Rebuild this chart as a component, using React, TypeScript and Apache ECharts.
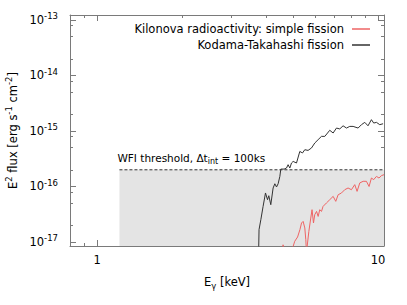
import React, { useEffect, useRef } from "react";
import * as echarts from "echarts";

// ---- data (energy in keV, E^2 flux in erg s^-1 cm^-2) ----
const kodamaEnergy = [
  3.756, 3.769, 3.825, 3.896, 3.974, 4.04, 4.083, 4.15, 4.23, 4.29, 4.35, 4.408,
  4.47, 4.506, 4.63, 4.721, 4.783, 4.851, 4.918, 4.984, 5.124, 5.265, 5.383,
  5.485, 5.634, 5.794, 5.953, 6.117, 6.289, 6.464, 6.73, 6.918, 7.112, 7.306,
  7.507, 7.72, 7.93, 8.15, 8.49, 8.73, 8.97, 9.21, 9.47, 9.65, 9.87, 10.14, 10.42,
];
const kodamaFlux = [
  6.7e-18, 1.67e-17, 2.52e-17, 4.37e-17, 7.64e-17, 5.78e-17, 6.82e-17, 4.7e-17,
  9.4e-17, 1.12e-16, 9.8e-17, 1.12e-16, 1.52e-16, 2.06e-16, 2.06e-16, 2.15e-16,
  2.47e-16, 2.15e-16, 2.65e-16, 2.83e-16, 2.65e-16, 4.28e-16, 4.02e-16, 4.6e-16,
  4.47e-16, 4.94e-16, 6.08e-16, 6.97e-16, 8.0e-16, 8.0e-16, 1.03e-15, 9.2e-16,
  1.13e-15, 1.09e-15, 1.24e-15, 1.13e-15, 1.21e-15, 1.21e-15, 1.13e-15, 1.3e-15,
  1.43e-15, 1.24e-15, 1.6e-15, 1.39e-15, 1.43e-15, 1.3e-15, 1.35e-15,
];
const simpleEnergy = [
  4.58, 4.59, 4.62, 4.98, 5.05, 5.17, 5.27, 5.34, 5.41, 5.485, 5.53, 5.56, 5.67,
  5.76, 5.82, 5.89, 5.95, 6.04, 6.12, 6.2, 6.29, 6.37, 6.55, 6.73, 6.92, 7.07,
  7.21, 7.41, 7.61, 7.82, 8.04, 8.26, 8.42, 8.61, 8.85, 9.09, 9.29, 9.47, 9.65,
  9.87, 10.08, 10.28, 10.5,
];
const simpleFlux = [
  6.7e-18, 8.9e-18, 6.7e-18, 8.2e-18, 1.03e-17, 1.23e-17, 1.67e-17, 2.2e-17,
  2.35e-17, 1.79e-17, 1.1e-17, 6.5e-18, 1.55e-17, 2.7e-17, 3.82e-17, 2.2e-17,
  3.1e-17, 3.56e-17, 2.89e-17, 3.82e-17, 3.56e-17, 4.37e-17, 5.05e-17, 5.78e-17,
  6.64e-17, 5.4e-17, 7.1e-17, 7.64e-17, 8.75e-17, 9.4e-17, 8.75e-17, 1.08e-16,
  8.17e-17, 1.16e-16, 1.24e-16, 1.24e-16, 1.0e-16, 1.42e-16, 1.33e-16, 1.52e-16,
  1.42e-16, 1.57e-16, 1.63e-16,
];
const thresholdEnergy = [1.2, 10.5];
const thresholdFlux = [2e-16, 2e-16];

const xRange = [0.8, 10.5];
const yRange = [8.47e-18, 1.23e-13];
const xMajorTicks = [1, 10];
const xMinorTicks = [0.9, 2, 3, 4, 5, 6, 7, 8, 9];
const yMajorTicks = [1e-17, 1e-16, 1e-15, 1e-14, 1e-13];
const yMinorTicks = [
  2e-17, 5e-17, 8e-17, 2e-16, 5e-16, 8e-16, 2e-15, 5e-15, 8e-15, 2e-14, 5e-14, 8e-14,
];

const SERIES_SIMPLE = "Kilonova radioactivity: simple fission";
const SERIES_KODAMA = "Kodama-Takahashi fission";

const FONT = "DejaVu Sans";
const FRAME = "#7a7a7a";

const pairs = (xs: number[], ys: number[]) => xs.map((x, i) => [x, ys[i]]);

export default function App() {
  const ref = useRef<HTMLDivElement>(null);

  useEffect(() => {
    if (!ref.current) return;
    const chart = echarts.init(ref.current, undefined, { renderer: "svg" });

    const baseX = (extra: any) => ({
      type: "log",
      logBase: 10,
      min: xRange[0],
      max: xRange[1],
      splitLine: { show: false },
      ...extra,
    });
    const baseY = (extra: any) => ({
      type: "log",
      logBase: 10,
      min: yRange[0],
      max: yRange[1],
      splitLine: { show: false },
      ...extra,
    });
    const lineOn = { show: true, onZero: false, lineStyle: { color: FRAME, width: 1 } };
    const lineOff = { show: false, onZero: false };
    const tick = (vals: number[], len: number) => ({
      show: true,
      inside: true,
      length: len,
      customValues: vals,
      lineStyle: { color: FRAME, width: 1 },
    });

    const supRich = {
      b: { fontFamily: FONT, fontSize: 11.5, color: "#000", lineHeight: 16 },
      s: { fontFamily: FONT, fontSize: 8.5, color: "#000", lineHeight: 9, verticalAlign: "top" },
    };

    const option: any = {
      animation: false,
      grid: { left: 70, right: 23, top: 15, bottom: 59, containLabel: false, outerBoundsMode: "none" },
      legend: {
        data: [SERIES_SIMPLE, SERIES_KODAMA],
        orient: "vertical",
        right: 37,
        top: 22,
        padding: 0,
        align: "right",
        icon: "rect",
        itemWidth: 18,
        itemHeight: 1.5,
        itemGap: 2,
        textStyle: { fontFamily: FONT, fontSize: 11.5, color: "#000", lineHeight: 14, padding: [0, 3, 0, 0] },
      },
      xAxis: [
        baseX({
          position: "bottom",
          axisLine: lineOn,
          axisTick: tick(xMajorTicks, 6),
          axisLabel: {
            customValues: xMajorTicks,
            formatter: (v: number) => String(Math.round(v)),
            fontFamily: FONT,
            fontSize: 11.5,
            color: "#000",
            margin: 8,
          },
          name: "{a|E}{s|γ}{a| [keV]}",
          nameLocation: "middle",
          nameGap: 28,
          nameTextStyle: {
            rich: {
              a: { fontFamily: FONT, fontSize: 11.5, color: "#000", lineHeight: 16 },
              s: { fontFamily: FONT, fontSize: 8.5, color: "#000", lineHeight: 10, verticalAlign: "bottom" },
            },
          },
        }),
        baseX({ position: "top", axisLine: lineOn, axisTick: tick(xMajorTicks, 6), axisLabel: { show: false } }),
        baseX({ position: "bottom", axisLine: lineOff, axisTick: tick(xMinorTicks, 3), axisLabel: { show: false } }),
        baseX({ position: "top", axisLine: lineOff, axisTick: tick(xMinorTicks, 3), axisLabel: { show: false } }),
      ],
      yAxis: [
        baseY({
          position: "left",
          axisLine: lineOn,
          axisTick: tick(yMajorTicks, 6),
          axisLabel: {
            customValues: yMajorTicks,
            formatter: (v: number) => `{b|10}{s|${Math.round(Math.log10(v))}}`,
            rich: supRich,
            margin: 12,
          },
          name: "{a|E}{s|2}{a| flux [erg s}{s|-1}{a| cm}{s|-2}{a|]}",
          nameLocation: "middle",
          nameGap: 48,
          nameTextStyle: {
            rich: {
              a: { fontFamily: FONT, fontSize: 11.5, color: "#000", lineHeight: 16 },
              s: { fontFamily: FONT, fontSize: 8.5, color: "#000", lineHeight: 9, verticalAlign: "top" },
            },
          },
        }),
        baseY({ position: "right", axisLine: lineOn, axisTick: tick(yMajorTicks, 6), axisLabel: { show: false } }),
        baseY({ position: "left", axisLine: lineOff, axisTick: tick(yMinorTicks, 3), axisLabel: { show: false } }),
        baseY({ position: "right", axisLine: lineOff, axisTick: tick(yMinorTicks, 3), axisLabel: { show: false } }),
      ],
      series: [
        {
          name: "WFI threshold",
          type: "line",
          xAxisIndex: 0,
          yAxisIndex: 0,
          data: pairs(thresholdEnergy, thresholdFlux),
          symbol: "none",
          silent: true,
          z: 1,
          lineStyle: { color: "#333", width: 1, type: [3, 2] },
          areaStyle: { color: "#e4e4e4", opacity: 1, origin: "start" },
          markPoint: {
            symbol: "circle",
            symbolSize: 0,
            silent: true,
            data: [{ coord: [thresholdEnergy[0], thresholdFlux[0]] }],
            label: {
              show: true,
              position: [-2, -19],
              align: "left",
              verticalAlign: "top",
              formatter: "{a|WFI threshold, Δt}{s|int}{a| = 100ks}",
              rich: {
                a: { fontFamily: FONT, fontSize: 10.5, color: "#000", lineHeight: 15 },
                s: { fontFamily: FONT, fontSize: 8, color: "#000", lineHeight: 10, verticalAlign: "bottom" },
              },
            },
          },
        },
        {
          name: SERIES_SIMPLE,
          type: "line",
          xAxisIndex: 0,
          yAxisIndex: 0,
          data: pairs(simpleEnergy, simpleFlux),
          symbol: "none",
          z: 3,
          color: "#ee6464",
          lineStyle: { color: "#ee6464", width: 1 },
        },
        {
          name: SERIES_KODAMA,
          type: "line",
          xAxisIndex: 0,
          yAxisIndex: 0,
          data: pairs(kodamaEnergy, kodamaFlux),
          symbol: "none",
          z: 4,
          color: "#333333",
          lineStyle: { color: "#333333", width: 1 },
        },
      ],
    };

    chart.setOption(option);
    return () => chart.dispose();
  }, []);

  return (
    <div
      ref={ref}
      style={{ position: "absolute", left: 0, top: 0, width: 407, height: 305, background: "#fff" }}
    />
  );
}
